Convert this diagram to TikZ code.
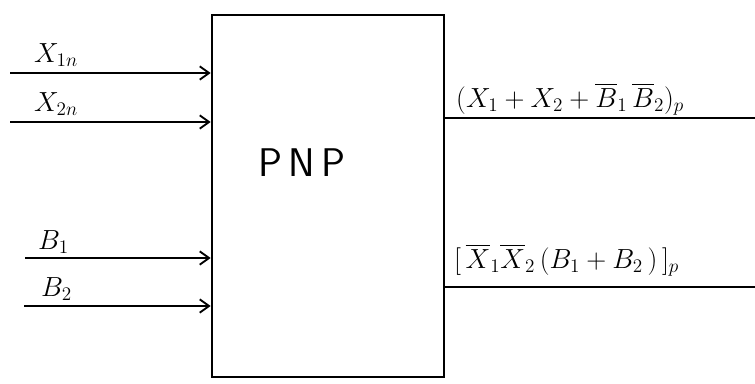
\documentclass[tikz,border=0pt]{standalone}
\usepackage{amsmath}
\usetikzlibrary{arrows.meta,positioning}

\begin{document}
\begin{tikzpicture}[x=0.75pt,y=-0.75pt,line width=1.8pt,
  inarrow/.style={-{Straight Barb[length=7pt,width=10pt,line width=1.4pt]}},
  lbl/.style={font=\huge,inner sep=0pt,anchor=base west}]
\useasboundingbox (0,0) rectangle (755,383);
% block
\node[draw,line width=2pt,minimum width=174pt,minimum height=271.5pt,inner sep=0pt] (pnp) at (328,196) {};
\node[font=\sffamily\fontsize{30}{34}\selectfont] (name) at (302,163) {P\,N\,P};
% inputs
\coordinate (x1) at (10,73); \coordinate (x2) at (10,122);
\coordinate (b1) at (25,258); \coordinate (b2) at (24,306);
\draw[inarrow] (x1) -- (x1 -| pnp.west);
\draw[inarrow] (x2) -- (x2 -| pnp.west);
\draw[inarrow] (b1) -- (b1 -| pnp.west);
\draw[inarrow] (b2) -- (b2 -| pnp.west);
\node[lbl] (lx1) at (33,62) {$X_{1n}$};
\node[lbl] (lx2) at (33,111) {$X_{2n}$};
\node[lbl] (lb1) at (37,249) {$B_1$};
\node[lbl] (lb2) at (40,296) {$B_2$};
% outputs
\coordinate (f1) at (755,118); \coordinate (f2) at (755,287);
\draw (pnp.east |- f1) -- (f1);
\draw (pnp.east |- f2) -- (f2);
\node[lbl] (lf1) at (455,107) {$(X_1+X_2+\overline{B}_1\,\overline{B}_2)_p$};
\node[lbl] (lf2) at (453,268) {$[\,\overline{X}_1\overline{X}_2\,(B_1+B_2\,)\,]_p$};
\end{tikzpicture}
\end{document}
